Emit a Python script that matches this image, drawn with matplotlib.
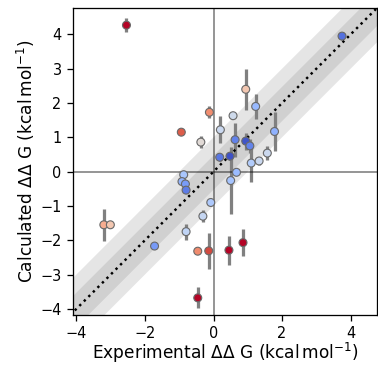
import matplotlib
matplotlib.use('Agg')
import matplotlib.pyplot as plt
import numpy as np

# experimental vs calculated ddG (kcal/mol)
exp_ddg = [-2.54, -0.94, -0.12, -0.37, 0.94, 1.23, 0.57, 0.20, 1.78, 0.63,
           0.94, 1.06, 0.18, 0.48, 1.10, 1.33, 1.57, 0.67, 0.50, -0.08,
           -0.31, -0.80, -0.46, -0.14, 0.45, 0.86, -0.46, -0.87, -0.92, -0.82,
           -0.80, -3.20, -3.01, -1.72, 3.75]
calc_ddg = [4.27, 1.15, 1.73, 0.86, 2.40, 1.90, 1.63, 1.22, 1.17, 0.93,
            0.89, 0.75, 0.42, 0.45, 0.25, 0.31, 0.54, -0.02, -0.26, -0.90,
            -1.30, -1.75, -2.32, -2.31, -2.29, -2.07, -3.68, -0.09, -0.29, -0.36,
            -0.54, -1.55, -1.55, -2.17, 3.95]
calc_err = [0.20, 0.0, 0.17, 0.17, 0.60, 0.37, 0.0, 0.40, 0.58, 0.50,
            0.25, 0.20, 0.10, 0.10, 0.56, 0.12, 0.20, 0.0, 0.97, 0.0,
            0.17, 0.23, 0.0, 0.53, 0.42, 0.39, 0.31, 0.0, 0.0, 0.0,
            0.0, 0.47, 0.0, 0.0, 0.10]

x = np.array(exp_ddg)
y = np.array(calc_ddg)
yerr = np.array(calc_err)

ax_min = min(x.min(), y.min()) - 0.5
ax_max = max(x.max(), y.max()) + 0.5

plt.rcParams['font.size'] = 9
fig = plt.figure(figsize=(3.25, 3.25 * 365 / 378), dpi=378 / 3.25)
ax = fig.add_axes([73 / 378, 50 / 365, 304 / 378, 307 / 365])

ax.axhline(0.0, color='k', linestyle='-', lw=1.0, alpha=0.5)
ax.axvline(0.0, color='k', linestyle='-', lw=1.0, alpha=0.5)

ax.plot([ax_min, ax_max], [ax_min, ax_max], color='k', linestyle=':')
small = 0.5
ax.fill_between([ax_min, ax_max], [ax_min - small, ax_max - small],
                [ax_min + small, ax_max + small], color='grey', alpha=0.2, lw=0)
ax.fill_between([ax_min, ax_max], [ax_min - 2 * small, ax_max - 2 * small],
                [ax_min + 2 * small, ax_max + 2 * small], color='grey', alpha=0.2, lw=0)

cm = plt.get_cmap('coolwarm')
colors = cm(np.abs(x - y) / 2.372)
ax.errorbar(x, y, yerr=yerr, color='gray', linewidth=0.0, elinewidth=2.0, zorder=1)
ax.scatter(x, y, color=colors, s=24, marker='o', zorder=2,
           edgecolors='dimgrey', linewidth=0.7)

ax.set_xlim(-4.1, ax_max)
ax.set_ylim(ax_min, ax_max)
ax.set_xticks([-4, -2, 0, 2, 4])
ax.set_yticks([-4, -3, -2, -1, 0, 1, 2, 3, 4])
ax.set_xlabel(r'Experimental $\Delta\Delta$ G ($\mathrm{kcal\,mol^{-1}}$)',
              fontsize=10.5, labelpad=0)
ax.set_ylabel(r'Calculated $\Delta\Delta$ G ($\mathrm{kcal\,mol^{-1}}$)',
              fontsize=10.5, labelpad=2)

fig.savefig('out.png')
